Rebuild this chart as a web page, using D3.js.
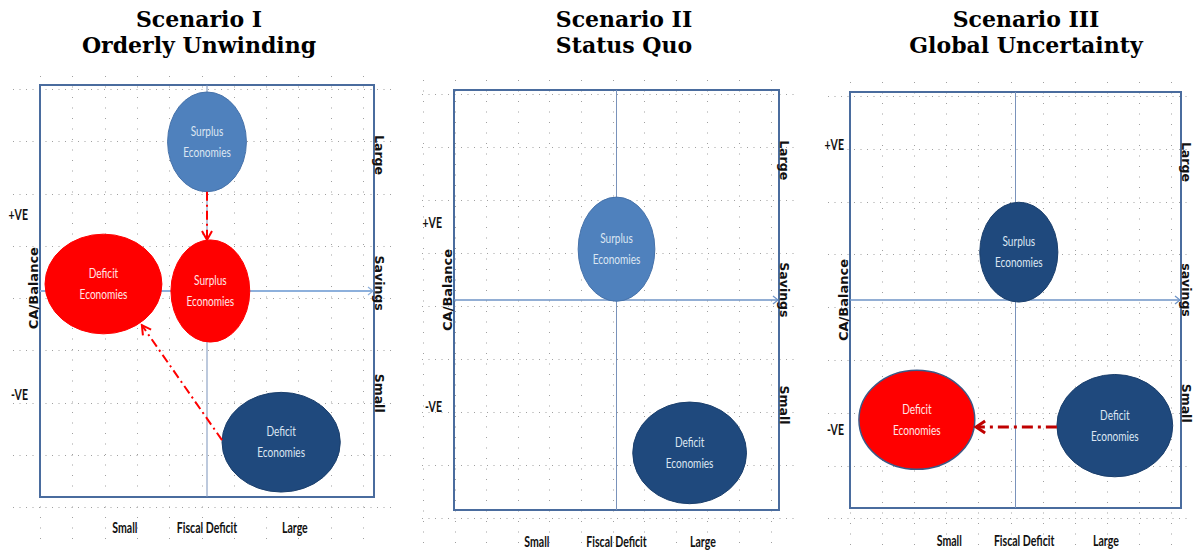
<!DOCTYPE html>
<html>
<head>
<meta charset="utf-8">
<script src="https://cdn.jsdelivr.net/npm/d3@7"></script>
<style>
  html, body { margin: 0; padding: 0; background: #ffffff; }
  svg { display: block; }
</style>
</head>
<body>
<svg id="chart" width="1194" height="552"></svg>
<script>
// ---- scenario content ----
const panelTitles = [
  ["Scenario I", "Orderly Unwinding"],
  ["Scenario II", "Status Quo"],
  ["Scenario III", "Global Uncertainty"]
];
const fiscalLabels = ["Small", "Fiscal Deficit", "Large"];
const fiscalLabelPos = [[-2.46, 0, 2.63], [-2.45, 0, 2.66], [-2.0, 0.26, 2.73]];
const savingsLabels = [["Large", "Savings", "Small"], ["Large", "Savings", "Small"], ["Large", "savings", "Small"]];
const savingsLabelPos = [[3.3, 0.19, -2.48], [3.33, 0.24, -2.5], [3.32, 0.24, -2.48]];
const caTickLabels = ["+VE", "-VE"];
const caTickPos = [[1.84, -2.52], [1.83, -2.55], [3.73, -3.13]];
const caTitle = "CA/Balance";
const caTitlePos = [0.07, 0.24, 0];

// economies: panel index, group, fiscal position, CA balance, extent, state
const econPanel   = [0, 0, 0, 0, 1, 1, 2, 2, 2];
const econName    = ["Surplus", "Deficit", "Surplus", "Deficit", "Surplus", "Deficit", "Surplus", "Deficit", "Deficit"];
const econFiscal  = [0, -3.1, 0.1, 2.22, 0, 2.25, 0.1, -2.98, 3.0];
const econBalance = [3.62, 0.17, 0, -3.67, 1.21, -3.64, 1.15, -2.88, -3.02];
const econSpreadX = [1.18, 1.75, 1.18, 1.77, 1.18, 1.75, 1.18, 1.75, 1.75];
const econSpreadY = [1.21, 1.21, 1.24, 1.21, 1.24, 1.21, 1.2, 1.19, 1.23];
const econState   = ["strong", "shifted", "shifted", "weak", "strong", "weak", "weak", "shifted", "weak"];

// adjustment paths between positions
const movePanel = [0, 0, 2];
const moveFrom  = [[0, 2.41], [0.45, -3.62], [1.25, -3.05]];
const moveTo    = [[0, 1.24], [-1.95, -0.83], [-1.19, -3.05]];
const moveStyle = ["light", "light", "heavy"];

// ---- layout ----
const boxes = [
  { x0: 40,  x1: 374,  y0: 85, y1: 497, titleX: 199,  labelDy: 36, tickDx: 12, grid: { rx0: 13,  rx1: 395,  ry: 89, rdy: 52.25, rn: 9, cx: 40,  cdx: 32.3, cn: 11, cy0: 76, cy1: 546 } },
  { x0: 454, x1: 779,  y0: 90, y1: 510, titleX: 624,  labelDy: 37, tickDx: 12, grid: { rx0: 422, rx1: 795,  ry: 94, rdy: 53,    rn: 9, cx: 423, cdx: 31.6, cn: 12, cy0: 80, cy1: 550 } },
  { x0: 850, x1: 1181, y0: 92, y1: 508, titleX: 1026, labelDy: 38, tickDx: 6,  grid: { rx0: 828, rx1: 1192, ry: 96, rdy: 52.8,  rn: 9, cx: 850, cdx: 32.1, cn: 11, cy0: 82, cy1: 550 } }
];

const fills = { strong: "#4F81BD", weak: "#1F497D", shifted: "#FF0000" };
const edges = { strong: "#4672AA", weak: "#1B3F6C", shifted: "#FF0000" };

const svg = d3.select("#chart");
const narrowFont = "Lato, 'Open Sans', sans-serif";
const boldFont = "'DejaVu Sans', Verdana, sans-serif";

// humanist narrow text: Lato squeezed horizontally
function narrowText(sel, px, py, squeeze) {
  return sel.append("text")
    .attr("transform", `translate(${px},${py}) scale(${squeeze},1)`)
    .attr("font-family", narrowFont);
}

boxes.forEach((b, p) => {
  const g = svg.append("g");
  const x = d3.scaleLinear().domain([-5, 5]).range([b.x0, b.x1]);
  const y = d3.scaleLinear().domain([-5, 5]).range([b.y1, b.y0]);
  const gr = b.grid;

  // dotted background grid
  const grid = g.append("g").attr("stroke", "#a0a0a0").attr("stroke-width", 1);
  grid.selectAll("line.row").data(d3.range(gr.rn)).join("line")
    .attr("class", "row")
    .attr("x1", gr.rx0).attr("x2", gr.rx1)
    .attr("y1", i => Math.round(gr.ry + i * gr.rdy) + 0.5)
    .attr("y2", i => Math.round(gr.ry + i * gr.rdy) + 0.5)
    .attr("stroke-dasharray", "1 5.5");
  grid.selectAll("line.col").data(d3.range(gr.cn)).join("line")
    .attr("class", "col")
    .attr("x1", i => Math.round(gr.cx + i * gr.cdx) + 0.5)
    .attr("x2", i => Math.round(gr.cx + i * gr.cdx) + 0.5)
    .attr("y1", gr.cy0).attr("y2", gr.cy1)
    .attr("stroke-dasharray", "1 9.5");

  // frame
  g.append("rect")
    .attr("x", b.x0).attr("y", b.y0)
    .attr("width", b.x1 - b.x0).attr("height", b.y1 - b.y0)
    .attr("fill", "none").attr("stroke", "#4A6C9E").attr("stroke-width", 2);

  // fiscal deficit divider
  g.append("line")
    .attr("x1", x(0)).attr("x2", x(0))
    .attr("y1", b.y0).attr("y2", b.y1)
    .attr("stroke", "#7A93BB").attr("stroke-width", 1);

  // CA balance axis with arrow
  const axisW = p === 0 ? 2 : 1.5;
  const axisC = p === 0 ? "#8DB0DC" : "#6E93C6";
  g.append("line")
    .attr("x1", x(-5)).attr("x2", x(5) - 1)
    .attr("y1", y(0)).attr("y2", y(0))
    .attr("stroke", axisC).attr("stroke-width", axisW);
  g.append("path")
    .attr("d", `M${x(5) - 6},${y(0) - 4} L${x(5) - 1},${y(0)} L${x(5) - 6},${y(0) + 4}`)
    .attr("fill", "none").attr("stroke", axisC).attr("stroke-width", 1.2);

  // economies
  const idx = d3.range(econPanel.length).filter(i => econPanel[i] === p);
  const kx = Math.abs(x(1) - x(0)), ky = Math.abs(y(1) - y(0));
  idx.forEach(i => {
    const ex = x(econFiscal[i]), ey = y(econBalance[i]);
    const ring = p === 2 && econState[i] === "shifted";
    g.append("ellipse")
      .attr("cx", ex).attr("cy", ey)
      .attr("rx", econSpreadX[i] * kx)
      .attr("ry", econSpreadY[i] * ky)
      .attr("fill", fills[econState[i]])
      .attr("stroke", ring ? "#3B5886" : edges[econState[i]])
      .attr("stroke-width", ring ? 1.5 : 1);
    const tc = econState[i] === "shifted" ? "#FFE6E6" : "#DCE6F2";
    [econName[i], "Economies"].forEach((t, line) => {
      narrowText(g, ex, ey + (line === 0 ? -6 : 15), 0.72)
        .attr("text-anchor", "middle")
        .attr("font-size", 14)
        .attr("fill", tc)
        .text(t);
    });
  });

  // adjustment arrows
  d3.range(movePanel.length).filter(i => movePanel[i] === p).forEach(i => {
    const [fx, fy] = moveFrom[i], [tx, ty] = moveTo[i];
    const X1 = x(fx), Y1 = y(fy), X2 = x(tx), Y2 = y(ty);
    const heavy = moveStyle[i] === "heavy";
    const col = heavy ? "#C00000" : "#FF0000";
    g.append("line")
      .attr("x1", X1).attr("y1", Y1).attr("x2", X2).attr("y2", Y2)
      .attr("stroke", col).attr("stroke-width", heavy ? 3 : 2)
      .attr("stroke-dasharray", heavy ? "11 5 3 5" : "9 4 2 4");
    const ang = Math.atan2(Y2 - Y1, X2 - X1) * 180 / Math.PI;
    g.append("path")
      .attr("d", heavy ? "M-9,-6 L0,0 L-9,6" : "M-9,-5 L0,0 L-9,5")
      .attr("transform", `translate(${X2},${Y2}) rotate(${ang})`)
      .attr("fill", "none").attr("stroke", col)
      .attr("stroke-width", heavy ? 3 : 2);
  });

  // titles
  panelTitles[p].forEach((t, k) => {
    svg.append("text")
      .attr("x", b.titleX).attr("y", 27 + k * 26)
      .attr("text-anchor", "middle")
      .attr("font-family", "'DejaVu Serif', serif")
      .attr("font-weight", "bold").attr("font-size", 22)
      .attr("fill", "#000").text(t);
  });

  // fiscal deficit labels beneath the frame
  fiscalLabels.forEach((t, k) => {
    narrowText(g, x(fiscalLabelPos[p][k]), b.y1 + b.labelDy, 0.66)
      .attr("text-anchor", "middle")
      .attr("font-weight", "bold")
      .attr("font-size", 16).attr("fill", "#111").text(t);
  });

  // CA balance ticks on the left
  caTickLabels.forEach((t, k) => {
    narrowText(g, b.x0 - b.tickDx, y(caTickPos[p][k]) + 5, 0.68)
      .attr("text-anchor", "end")
      .attr("font-weight", "bold")
      .attr("font-size", 15.5).attr("fill", "#111").text(t);
  });
  g.append("text")
    .attr("transform", `translate(${b.x0 - 2},${y(caTitlePos[p])}) rotate(-90)`)
    .attr("text-anchor", "middle")
    .attr("font-family", boldFont).attr("font-weight", "bold")
    .attr("font-size", 13).attr("fill", "#111").text(caTitle);

  // savings labels on the right, reading downward
  savingsLabels[p].forEach((t, k) => {
    g.append("text")
      .attr("transform", `translate(${b.x1 + 1},${y(savingsLabelPos[p][k])}) rotate(90)`)
      .attr("text-anchor", "middle")
      .attr("font-family", boldFont).attr("font-weight", "bold")
      .attr("font-size", 12.5).attr("fill", "#111").text(t);
  });
});
</script>
</body>
</html>
